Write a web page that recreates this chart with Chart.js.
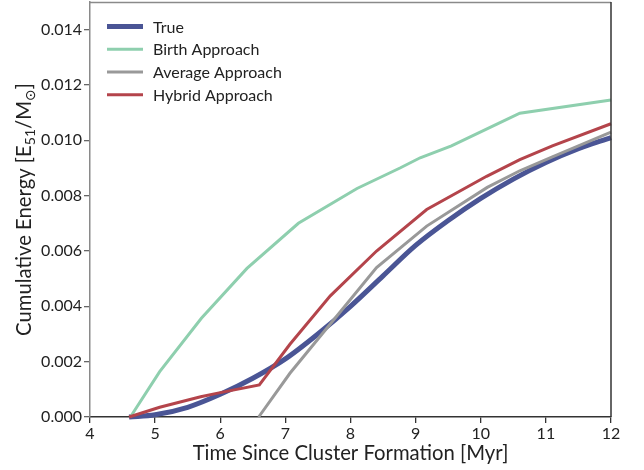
<!DOCTYPE html>
<html><head><meta charset="utf-8">
<script src="https://cdn.jsdelivr.net/npm/chart.js@4/dist/chart.umd.min.js"></script>
<style>html,body{margin:0;padding:0;background:#fff}#wrap{width:644px;height:470px;position:relative}</style>
</head><body><div id="wrap"><canvas id="c" width="644" height="470"></canvas></div>
<script>
const seriesNames = ["True","Birth Approach","Average Approach","Hybrid Approach"];
const seriesColors = ["#4a5595","#8ecfae","#999999","#b4444b"];
const seriesWidths = [5,3,3,3];
const trueX = [4.6,5.0,5.5,6.0,6.5,7.0,7.5,8.0,8.5,9.0,9.5,10.0,10.5,11.0,11.5,12.0];
const trueY = [0,0.00008,0.00035,0.00082,0.0014,0.0021,0.0030,0.0040,0.0051,0.0062,0.0071,0.0079,0.0086,0.0092,0.0097,0.0101];
const birthX = [4.62,5.07,5.71,6.41,7.2,8.1,8.76,9.07,9.55,10.24,10.6,12.0];
const birthY = [0,0.00164,0.00357,0.00537,0.0070,0.00826,0.0090,0.00937,0.0098,0.01058,0.01098,0.01146];
const avgX = [6.59,7.07,8.4,9.17,10.1,10.6,11.1,12.0];
const avgY = [0,0.00158,0.0054,0.0069,0.0083,0.0089,0.0094,0.0103];
const hybX = [4.6,5.07,5.7,6.0,6.6,7.07,7.69,8.4,9.17,10.09,10.6,11.1,12.0];
const hybY = [0,0.00035,0.00073,0.00088,0.00116,0.00263,0.00438,0.0060,0.0075,0.0087,0.0093,0.0098,0.0106];
const xTickValues = [4,5,6,7,8,9,10,11,12];
const yTickValues = [0,0.002,0.004,0.006,0.008,0.010,0.012,0.014];
const xTitle = "Time Since Cluster Formation [Myr]";
const yTitleParts = [["Cumulative Energy [E",0],["51",1],["/M",0],["\u2299",1],["]",0]];

const FONT = "Lato, 'DejaVu Sans', sans-serif";
const toPts = (xs, ys) => xs.map((x,i)=>({x:x, y:ys[i]}));
const allX = [trueX, birthX, avgX, hybX];
const allY = [trueY, birthY, avgY, hybY];

const datasets = seriesNames.map((n,i)=>({
  label: n,
  data: toPts(allX[i], allY[i]),
  borderColor: seriesColors[i],
  backgroundColor: seriesColors[i],
  borderWidth: seriesWidths[i],
  pointRadius: 0,
  tension: 0,
  cubicInterpolationMode: i===0 ? 'monotone' : 'default',
  fill: false,
  clip: false,
  order: i===0 ? 4 : 3-i
}));

const decor = {
  id: 'decor',
  afterDraw(chart){
    const ctx = chart.ctx, a = chart.chartArea;
    ctx.save();
    ctx.lineWidth = 1.5;
    ctx.strokeStyle = '#8a8a8a';
    ctx.beginPath(); ctx.moveTo(a.left, a.top+0.5); ctx.lineTo(a.right, a.top+0.5); ctx.stroke();
    ctx.strokeStyle = '#333333';
    ctx.beginPath(); ctx.moveTo(a.right, a.top); ctx.lineTo(a.right, a.bottom); ctx.stroke();
    ctx.fillStyle = '#222';
    ctx.font = "20.3px " + FONT;
    ctx.textAlign = 'center'; ctx.textBaseline = 'alphabetic';
    ctx.fillText(xTitle, (a.left+a.right)/2, 460);
    ctx.translate(31, (a.top+a.bottom)/2);
    ctx.rotate(-Math.PI/2);
    const big = "20.3px " + FONT, small = "14px " + FONT;
    let total = 0;
    yTitleParts.forEach(p=>{ ctx.font = p[1]?small:big; total += ctx.measureText(p[0]).width; });
    let x = -total/2;
    ctx.textAlign = 'left';
    yTitleParts.forEach(p=>{
      ctx.font = p[1]?small:big;
      ctx.fillText(p[0], x, p[1]?4:0);
      x += ctx.measureText(p[0]).width;
    });
    ctx.restore();
    ctx.save();
    ctx.font = "16px " + FONT;
    ctx.textBaseline = 'middle'; ctx.textAlign = 'left';
    const ys = [26.5, 49.3, 72, 94.7];
    seriesNames.forEach((n,i)=>{
      ctx.strokeStyle = seriesColors[i];
      ctx.lineWidth = seriesWidths[i];
      ctx.beginPath(); ctx.moveTo(107, ys[i]); ctx.lineTo(143, ys[i]); ctx.stroke();
      ctx.fillStyle = '#222';
      ctx.fillText(n, 153, ys[i]+1);
    });
    ctx.restore();
  }
};

new Chart(document.getElementById('c'), {
  type: 'line',
  data: { datasets },
  options: {
    responsive: false,
    animation: false,
    layout: { padding: { top: 2, right: 33, left: 0, bottom: 0 } },
    plugins: { legend: { display: false }, tooltip: { enabled: false } },
    scales: {
      x: {
        type: 'linear', min: 4, max: 12,
        afterBuildTicks: s => { s.ticks = xTickValues.map(v=>({value:v})); },
        afterFit: s => { s.height = 53; s.paddingLeft = 0; s.paddingRight = 0; },
        grid: { drawOnChartArea: false, drawTicks: true, tickLength: 6, color: '#333', lineWidth: 1.3 },
        border: { color: '#333', width: 1.5 },
        ticks: { color: '#222', font: { family: FONT, size: 16 }, padding: 1, maxRotation: 0,
                 callback: v => String(v) }
      },
      y: {
        type: 'linear', min: 0, max: 0.015,
        afterBuildTicks: s => { s.ticks = yTickValues.map(v=>({value:v})); },
        afterFit: s => { s.width = 90; s.paddingTop = 0; s.paddingBottom = 0; },
        grid: { drawOnChartArea: false, drawTicks: true, tickLength: 6, color: '#666', lineWidth: 1.3 },
        border: { color: '#8a8a8a', width: 1.5 },
        ticks: { color: '#222', font: { family: FONT, size: 16 }, padding: 2,
                 callback: v => v.toFixed(3) }
      }
    }
  },
  plugins: [decor]
});
</script>
</body></html>
